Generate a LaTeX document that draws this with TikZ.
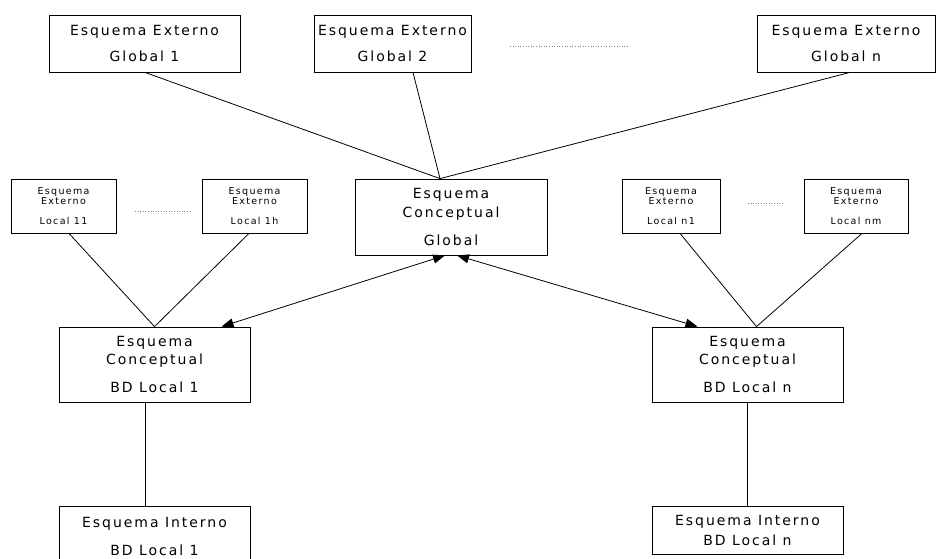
\documentclass[tikz,border=0pt]{standalone}
\usepackage{fontspec}
\newfontfamily\dfont[LetterSpace=14]{DejaVu Sans}
\usetikzlibrary{arrows.meta}
\begin{document}
\begin{tikzpicture}[x=1pt,y=-1pt,
  box/.style={draw, line width=0.8pt, rectangle, inner sep=0pt, align=center,
    font=\dfont\fontsize{14}{18.5}\selectfont},
  sbox/.style={box, font=\dfont\fontsize{9.5}{10}\selectfont},
  conn/.style={line width=0.8pt},
  dots/.style={dotted, line width=0.6pt, gray},
  biarrow/.style={conn, {Triangle[length=12pt,width=9pt]}-{Triangle[length=12pt,width=9pt]}}]
\useasboundingbox (0,0) rectangle (936,558);

% top row
\node[box, minimum width=191pt, minimum height=57pt] (eg1) at (144.5,43.5) {Esquema Externo\\[8pt]Global 1};
\node[box, minimum width=157pt, minimum height=57pt] (eg2) at (392.5,43.5) {Esquema Externo\\[8pt]Global 2};
\node[box, minimum width=178pt, minimum height=57pt] (egn) at (846,43.5) {Esquema Externo\\[8pt]Global n};
\coordinate (d1a) at (510,46);
\coordinate (d1b) at (628,46);
\draw[dots] (d1a) -- (d1b);

% conceptual global
\node[box, minimum width=192pt, minimum height=76pt] (ecg) at (451,217) {Esquema\\Conceptual\\[9.5pt]Global};

% local external
\node[sbox, minimum width=105pt, minimum height=54pt] (el11) at (63.5,206) {Esquema\\Externo\\[10pt]Local 11};
\node[sbox, minimum width=105pt, minimum height=54pt] (el1h) at (254.5,206) {Esquema\\Externo\\[10pt]Local 1h};
\node[sbox, minimum width=98pt, minimum height=54pt] (eln1) at (671,206) {Esquema\\Externo\\[10pt]Local n1};
\node[sbox, minimum width=104pt, minimum height=54pt] (elnm) at (856,206) {Esquema\\Externo\\[10pt]Local nm};
\coordinate (d2a) at (135,211);
\coordinate (d2b) at (191,211);
\draw[dots] (d2a) -- (d2b);
\coordinate (d3a) at (748,203);
\coordinate (d3b) at (783,203);
\draw[dots] (d3a) -- (d3b);

% local conceptual
\node[box, minimum width=191pt, minimum height=75pt] (cl1) at (154.5,364.5) {Esquema\\Conceptual\\[9.5pt]BD Local 1};
\node[box, minimum width=191pt, minimum height=75pt] (cln) at (747.5,364.5) {Esquema\\Conceptual\\[9.5pt]BD Local n};

% internal
\node[box, minimum width=191pt, minimum height=60pt] (il1) at (154.5,536) {Esquema Interno\\[9.5pt]BD Local 1};
\node[box, minimum width=191pt, minimum height=48pt] (iln) at (747.5,530) {Esquema Interno\\[1.5pt]BD Local n};

% connectors
\coordinate (cg) at ([xshift=-11pt]ecg.north);
\draw[conn] ([xshift=0.5pt]eg1.south) -- (cg);
\draw[conn] ([xshift=20.5pt]eg2.south) -- (cg);
\draw[conn] ([xshift=4pt]egn.south) -- (cg);

\coordinate (a1) at (cl1.north);
\draw[conn] ([xshift=5.5pt]el11.south) -- (a1);
\draw[conn] ([xshift=-5.5pt]el1h.south) -- (a1);
\coordinate (an) at ([xshift=9pt]cln.north);
\draw[conn] ([xshift=9pt]eln1.south) -- (an);
\draw[conn] ([xshift=6pt]elnm.south) -- (an);

\draw[biarrow] ([xshift=-6pt]ecg.south) -- ([xshift=67pt]cl1.north);
\draw[biarrow] ([xshift=6pt]ecg.south) -- ([xshift=-50pt]cln.north);

\coordinate (v1) at ([xshift=-9.5pt]cl1.south);
\draw[conn] (v1) -- (v1 |- il1.north);
\draw[conn] (cln.south) -- (iln.north);
\end{tikzpicture}
\end{document}
